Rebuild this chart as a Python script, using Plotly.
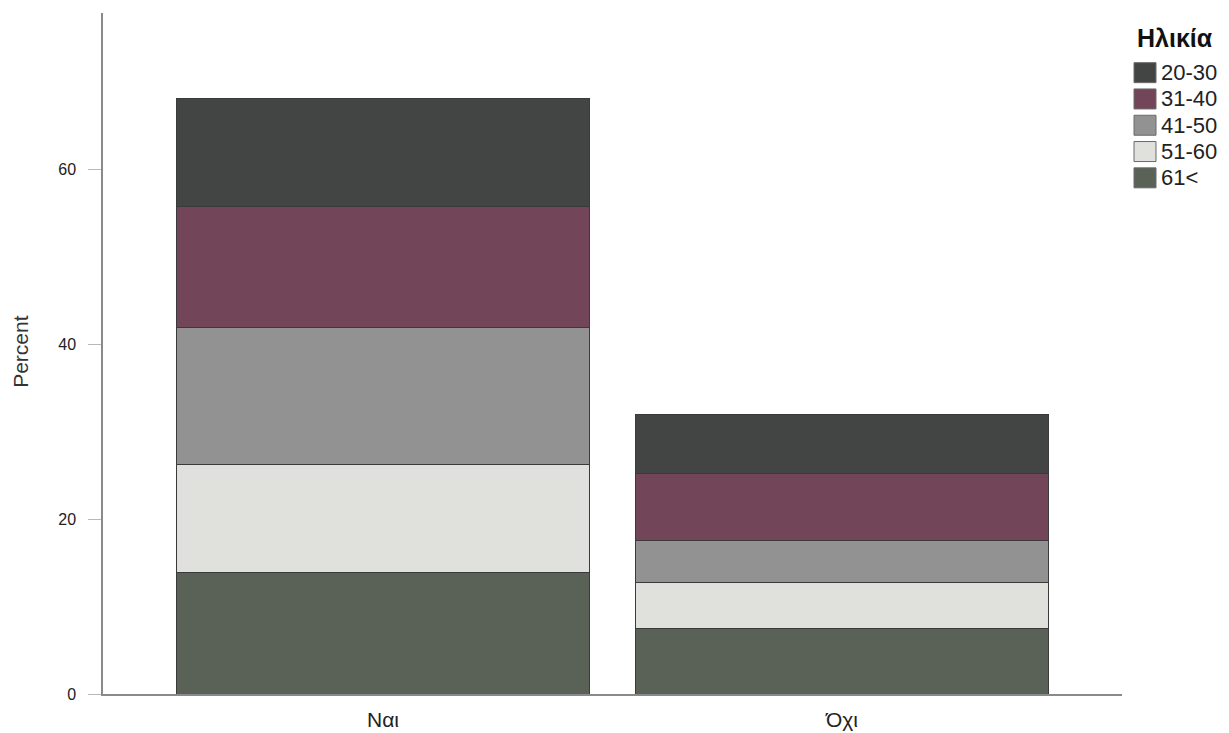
import plotly.graph_objects as go

categories = ["Ναι", "Όχι"]
age_groups = ["61<", "51-60", "41-50", "31-40", "20-30"]
values_61 = [13.9, 7.5]
values_51_60 = [12.4, 5.2]
values_41_50 = [15.6, 4.9]
values_31_40 = [13.9, 7.6]
values_20_30 = [12.3, 6.8]
series = [values_61, values_51_60, values_41_50, values_31_40, values_20_30]
colors = ["#5a6156", "#e0e0dc", "#929292", "#734558", "#434545"]
y_ticks = [0, 20, 40, 60]
legend_title = "Ηλικία"
y_title = "Percent"

FONT = "Liberation Sans, Arial, sans-serif"

# plot-area geometry (figure pixels)
W, H = 1229, 733
L, T = 95, 5
PW, PH = 1019, 681.3
R = W - L - PW
B = H - T - PH


def px_x(px):  # page-pixel x -> paper
    return (px - 8 - L) / PW


def px_y(py):  # page-pixel y -> paper
    return (T + PH - (py - 8)) / PH


fig = go.Figure()
for name, vals, col in zip(age_groups, series, colors):
    fig.add_trace(go.Bar(
        x=categories, y=vals, name=name,
        marker=dict(color=col, line=dict(color="#3a3a3a", width=1)),
        width=0.9, showlegend=False,
    ))

shapes = []
annotations = []
# custom legend (top entry first)
for i, (name, col) in enumerate(zip(age_groups[::-1], colors[::-1])):
    cy = 72.7 + 26.3 * i
    shapes.append(dict(
        type="rect", xref="paper", yref="paper",
        x0=px_x(1134), x1=px_x(1156), y0=px_y(cy + 10), y1=px_y(cy - 10),
        fillcolor=col, line=dict(color="#6a6a6a", width=1),
    ))
    annotations.append(dict(
        xref="paper", yref="paper", x=px_x(1159), y=px_y(cy),
        xanchor="left", yanchor="middle", text=name, showarrow=False,
        font=dict(family=FONT, size=22, color="#222222"),
    ))
annotations.append(dict(
    xref="paper", yref="paper", x=px_x(1135), y=px_y(38.5),
    xanchor="left", yanchor="middle", text="<b>" + legend_title + "</b>",
    showarrow=False, font=dict(family=FONT, size=25, color="#111111"),
))
annotations.append(dict(
    xref="paper", yref="paper", x=px_x(21), y=px_y(352),
    xanchor="center", yanchor="middle", text=y_title, textangle=-90,
    showarrow=False, font=dict(family=FONT, size=21, color="#333333"),
))

fig.update_layout(
    barmode="stack",
    width=W, height=H,
    margin=dict(l=L, r=R, t=T, b=B),
    plot_bgcolor="white", paper_bgcolor="white",
    font=dict(family=FONT, color="#222222"),
    showlegend=False,
    shapes=shapes, annotations=annotations,
    xaxis=dict(
        range=[-0.61, 1.61], showline=True, linecolor="#8a8a8a", linewidth=1.5,
        ticks="", tickfont=dict(size=21, color="#222222"), showgrid=False,
        ticklabelstandoff=6,
    ),
    yaxis=dict(
        range=[0, 77.9], showline=True, linecolor="#8a8a8a", linewidth=1.5,
        ticks="outside", ticklen=13, tickcolor="#b8b8b8", tickwidth=1,
        tickvals=y_ticks, ticklabelstandoff=9,
        tickfont=dict(size=16, color="#222222"), showgrid=False, zeroline=False,
    ),
)

fig.write_html("out.html")
